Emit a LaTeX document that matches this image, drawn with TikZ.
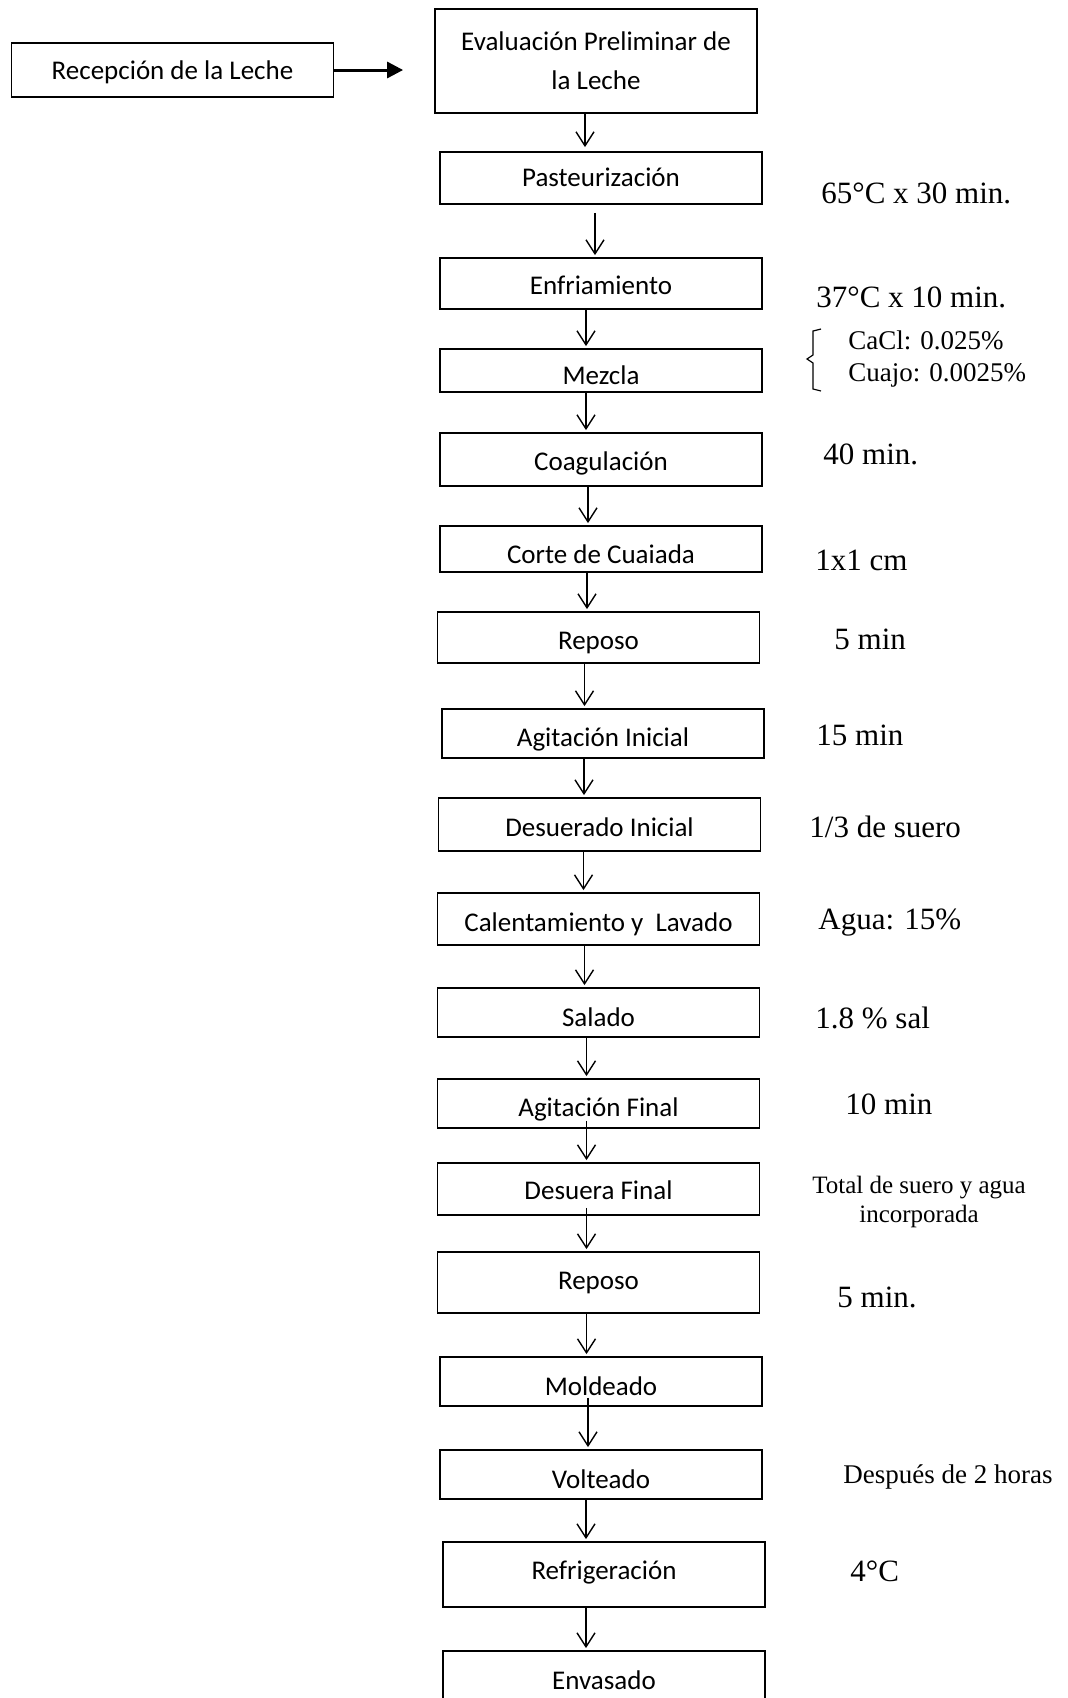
\documentclass[tikz,border=0pt]{standalone}
\usepackage{fontspec}
\setmainfont{Liberation Serif}
\newfontfamily\calibri{Carlito}
\usetikzlibrary{arrows.meta}
\tikzset{
	caja/.style={rectangle, draw=black, line width=0.9pt, minimum width=161pt, inner xsep=0pt, inner ysep=0pt, anchor=base, font=\calibri\fontsize{13.5}{16}\selectfont},
	nota/.style={anchor=west, inner sep=0pt, font=\fontsize{15.5}{18}\selectfont},
	notachica/.style={inner sep=0pt, font=\fontsize{13.5}{16}\selectfont},
	flecha/.style={-{Straight Barb[length=7pt, width=9pt]}, line width=0.7pt, shorten >=1pt},
	flechagruesa/.style={-{Triangle[length=8pt, width=8pt]}, line width=1.5pt},
}
\begin{document}
\begin{tikzpicture}[x=0.5pt, y=-0.5pt]
		\useasboundingbox (0,0) rectangle (1067,1698);
		% etapas del proceso
		\node[caja, text height=18pt, text depth=9pt] (rec) at (172.5,79) {Recepción de la Leche};
		\node[caja, anchor=center, minimum height=52pt, align=center, font=\calibri\fontsize{13.5}{19.5}\selectfont] (eva) at (596,61) {Evaluación Preliminar de\\la Leche};
		\node[caja, text height=17pt, text depth=9pt] (pas) at (601,186) {Pasteurización};
		\node[caja, text height=18pt, text depth=7.5pt] (enf) at (601,294) {Enfriamiento};
		\node[caja, text height=17.5pt, text depth=4pt] (mez) at (601,384) {Mezcla};
		\node[caja, text height=18.5pt, text depth=8pt] (coa) at (601,470) {Coagulación};
		\node[caja, text height=18.5pt, text depth=4.5pt] (cor) at (601,563) {Corte de Cuaiada};
		\node[caja, text height=18.5pt, text depth=7pt] (rep) at (598.5,649) {Reposo};
		\node[caja, text height=18.5pt, text depth=6pt] (agi) at (603,746) {Agitación Inicial};
		\node[caja, text height=19pt, text depth=7.5pt] (des) at (599.5,836) {Desuerado Inicial};
		\node[caja, text height=19pt, text depth=7pt] (cal) at (598.5,931) {Calentamiento y~ Lavado};
		\node[caja, text height=19pt, text depth=5.5pt] (sal) at (598.5,1026) {Salado};
		\node[caja, text height=18.5pt, text depth=6pt] (agf) at (598.5,1116) {Agitación Final};
		\node[caja, text height=18pt, text depth=8pt] (def) at (598.5,1199) {Desuera Final};
		\node[caja, text height=18.5pt, text depth=12pt] (rpf) at (598.5,1289) {Reposo};
		\node[caja, text height=19pt, text depth=5.5pt] (mol) at (601,1395) {Moldeado};
		\node[caja, text height=19pt, text depth=5.5pt] (vol) at (601,1488) {Volteado};
		\node[caja, text height=18.5pt, text depth=14pt] (ref) at (604,1579) {Refrigeración};
		\node[caja, text height=19pt, text depth=13pt] (env) at (604,1689) {Envasado};
		% condiciones de cada etapa
		\node[nota] (t1) at (821,193) {65°C x 30 min.};
		\node[nota] (t2) at (816,297) {37°C x 10 min.};
		\node[notachica, anchor=west, align=left] (t3) at (848,359) {CaCl: 0.025\%\\Cuajo: 0.0025\%};
		\node[nota] (t4) at (823,454) {40 min.};
		\node[nota] (t5) at (815,560) {1x1 cm};
		\node[nota] (t6) at (834,639) {5 min};
		\node[nota] (t7) at (816,735) {15 min};
		\node[nota] (t8) at (809,827) {1/3 de suero};
		\node[nota] (t9) at (818,923) {Agua: 15\%};
		\node[nota] (t10) at (815,1018) {1.8 \% sal};
		\node[nota] (t11) at (845,1104) {10 min};
		\node[notachica, align=center, font=\fontsize{12.5}{14.5}\selectfont] (t12) at (919,1202) {Total de suero y agua\\incorporada};
		\node[nota] (t13) at (837,1297) {5 min.};
		\node[notachica, anchor=west] (t14) at (843,1477) {Después de 2 horas};
		\node[nota] (t15) at (850,1571) {4°C};
		\draw[line width=0.6pt] (821,329) -- (813,331) -- (813,355) -- (807,359) -- (813,363) -- (813,389) -- (821,391);
		% flujo
		\draw[flechagruesa, shorten >=15.5pt] (rec.east) -- (rec.east -| eva.west);
		\draw[flecha, shorten >=2pt] ([xshift=-5.5pt]eva.south) -- ([xshift=-5.5pt]eva.south |- pas.north);
		\draw[flecha, shorten <=4pt] ([xshift=-3pt]pas.south) -- ([xshift=-3pt]pas.south |- enf.north);
		\draw[flecha] ([xshift=-7.5pt]enf.south) -- ([xshift=-7.5pt]enf.south |- mez.north);
		\draw[flecha] ([xshift=-7.5pt]mez.south) -- ([xshift=-7.5pt]mez.south |- coa.north);
		\draw[flecha] ([xshift=-6.5pt]coa.south) -- ([xshift=-6.5pt]coa.south |- cor.north);
		\draw[flecha] ([xshift=-7pt]cor.south) -- ([xshift=-7pt]cor.south |- rep.north);
		\draw[flecha] ([xshift=-7pt]rep.south) -- ([xshift=-7pt]rep.south |- agi.north);
		\draw[flecha] ([xshift=-9.5pt]agi.south) -- ([xshift=-9.5pt]agi.south |- des.north);
		\draw[flecha] ([xshift=-8pt]des.south) -- ([xshift=-8pt]des.south |- cal.north);
		\draw[flecha] ([xshift=-7pt]cal.south) -- ([xshift=-7pt]cal.south |- sal.north);
		\draw[flecha] ([xshift=-6pt]sal.south) -- ([xshift=-6pt]sal.south |- agf.north);
		\draw[flecha, shorten <=-4pt] ([xshift=-6pt]agf.south) -- ([xshift=-6pt]agf.south |- def.north);
		\draw[flecha, shorten <=-4pt] ([xshift=-6pt]def.south) -- ([xshift=-6pt]def.south |- rpf.north);
		\draw[flecha] ([xshift=-6pt]rpf.south) -- ([xshift=-6pt]rpf.south |- mol.north);
		\draw[flecha, shorten <=-4.5pt] ([xshift=-6.5pt]mol.south) -- ([xshift=-6.5pt]mol.south |- vol.north);
		\draw[flecha] ([xshift=-7.5pt]vol.south) -- ([xshift=-7.5pt]vol.south |- ref.north);
		\draw[flecha] ([xshift=-9pt]ref.south) -- ([xshift=-9pt]ref.south |- env.north);
	\end{tikzpicture}
\end{document}
